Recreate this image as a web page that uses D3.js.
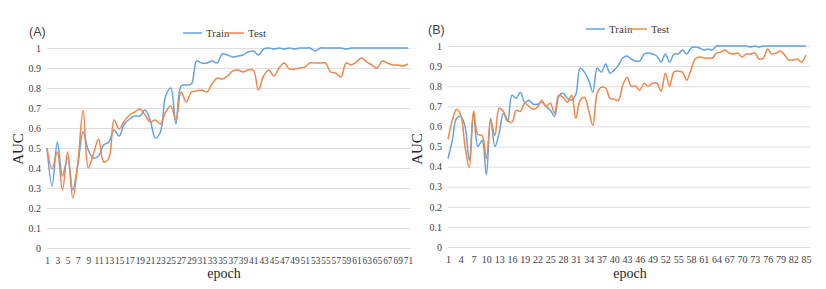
<!DOCTYPE html>
<html>
<head>
<meta charset="utf-8">
<script src="https://cdn.jsdelivr.net/npm/d3@7"></script>
<style>
  body { margin: 0; background: #fff; }
  svg { display: block; }
</style>
</head>
<body>
<svg width="826" height="289"></svg>
<script>
const trainA = [0.50,0.31,0.53,0.36,0.45,0.29,0.42,0.58,0.49,0.45,
  0.46,0.515,0.53,0.59,0.56,0.62,0.645,0.66,0.66,0.69,
  0.64,0.55,0.58,0.76,0.80,0.62,0.81,0.815,0.82,0.935,
  0.925,0.925,0.935,0.925,0.97,0.965,0.955,0.96,0.965,0.98,
  0.985,0.965,0.995,1.0,0.995,1.0,0.995,1.0,0.995,1.0,
  1.0,1.0,0.985,1.0,1.0,1.0,1.0,1.0,0.995,1.0,
  1.0,1.0,1.0,1.0,1.0,1.0,1.0,1.0,1.0,1.0,1.0]
const testA = [0.50,0.395,0.48,0.29,0.48,0.25,0.43,0.69,0.40,0.47,
  0.545,0.43,0.45,0.64,0.595,0.635,0.665,0.68,0.695,0.665,
  0.63,0.64,0.62,0.68,0.71,0.64,0.78,0.73,0.78,0.785,
  0.79,0.78,0.82,0.85,0.845,0.86,0.885,0.89,0.88,0.89,
  0.89,0.79,0.86,0.89,0.86,0.90,0.925,0.895,0.895,0.90,
  0.905,0.925,0.925,0.925,0.925,0.88,0.875,0.855,0.925,0.915,
  0.93,0.95,0.93,0.915,0.90,0.935,0.925,0.915,0.915,0.91,0.92]
const trainB = [0.44,0.53,0.64,0.65,0.60,0.43,0.665,0.50,0.53,0.36,
  0.64,0.50,0.565,0.665,0.625,0.755,0.74,0.77,0.72,0.73,
  0.71,0.71,0.72,0.70,0.68,0.65,0.75,0.765,0.74,0.73,
  0.76,0.89,0.87,0.83,0.77,0.89,0.87,0.91,0.865,0.88,
  0.905,0.94,0.95,0.935,0.925,0.925,0.96,0.965,0.96,0.95,
  0.92,0.96,0.92,0.96,0.96,0.98,0.96,0.99,0.995,0.99,
  0.98,0.985,0.98,1.0,1.0,1.0,1.0,1.0,1.0,1.0,
  1.0,0.995,1.0,0.995,1.0,1.0,1.0,1.0,1.0,1.0,
  1.0,1.0,1.0,1.0,1.0]
const testB = [0.535,0.63,0.685,0.655,0.50,0.395,0.675,0.56,0.555,0.44,
  0.63,0.555,0.69,0.675,0.63,0.62,0.68,0.675,0.715,0.70,
  0.685,0.695,0.73,0.70,0.715,0.665,0.755,0.745,0.72,0.755,
  0.64,0.73,0.745,0.68,0.605,0.765,0.795,0.79,0.74,0.735,
  0.73,0.805,0.845,0.80,0.80,0.78,0.815,0.80,0.815,0.815,
  0.775,0.865,0.80,0.87,0.875,0.87,0.83,0.88,0.935,0.945,
  0.94,0.94,0.94,0.965,0.97,0.98,0.965,0.96,0.965,0.945,
  0.96,0.96,0.965,0.935,0.94,0.985,0.96,0.965,0.975,0.955,
  0.93,0.93,0.935,0.92,0.955]

const yTicks = [0,0.1,0.2,0.3,0.4,0.5,0.6,0.7,0.8,0.9,1]
const xTicksA = d3.range(1, 72, 2)
const xTicksB = d3.range(1, 86, 3)
const seriesNames = ['Train', 'Test']
const colors = ['#62a3e0', '#f0874c']

const svg = d3.select('svg')
const serif = '"Liberation Serif", "Times New Roman", serif'

function drawPanel(p) {
    const g = svg.append('g')
    const x = d3.scaleLinear().domain([1, p.train.length]).range(p.xr)
    const y = d3.scaleLinear().domain([0, 1]).range(p.yr)

    // gridlines + y labels
    const ya = g.append('g')
        .attr('transform', `translate(${p.xr[0]},0)`)
        .call(d3.axisLeft(y).tickValues(yTicks)
            .tickSize(-(p.gridEnd - p.xr[0]))
            .tickPadding(6)
            .tickFormat(d => +d.toFixed(1)))
    ya.select('.domain').remove()
    ya.selectAll('line').attr('stroke', '#dedede').attr('stroke-width', 1)
    ya.selectAll('text').attr('fill', '#404040')
        .style('font-family', serif).style('font-size', '10px')

    const xa = g.append('g')
        .attr('transform', `translate(0,${p.yr[0]})`)
        .call(d3.axisBottom(x).tickValues(p.xTicks).tickSize(0).tickPadding(9))
    xa.select('.domain').remove()
    xa.selectAll('text').attr('fill', '#404040')
        .style('font-family', serif).style('font-size', p.xFont)

    const line = d3.line()
        .x((d, i) => x(i + 1))
        .y(d => y(d))
        .curve(d3.curveCatmullRom.alpha(0.5))

    ;[p.train, p.test].forEach((s, i) => {
        g.append('path')
            .datum(s)
            .attr('fill', 'none')
            .attr('stroke', colors[i])
            .attr('stroke-width', 1.5)
            .attr('d', line)
    })

    // legend
    seriesNames.forEach((n, i) => {
        const lx = p.legend[0] + i * 42
        g.append('line')
            .attr('x1', lx).attr('x2', lx + 19)
            .attr('y1', p.legend[1]).attr('y2', p.legend[1])
            .attr('stroke', colors[i]).attr('stroke-width', 1.5)
        g.append('text')
            .attr('x', lx + 23).attr('y', p.legend[1] + 4)
            .attr('fill', '#404040')
            .style('font-family', serif).style('font-size', '11px')
            .text(n)
    })

    g.append('text')
        .attr('x', p.title[0]).attr('y', p.title[1])
        .attr('fill', '#404040')
        .style('font-family', '"Liberation Sans", Arial, sans-serif')
        .style('font-size', '12.5px')
        .text(p.label)

    g.append('text')
        .attr('transform', `translate(${p.auc[0]},${p.auc[1]}) rotate(-90)`)
        .attr('text-anchor', 'middle')
        .attr('fill', '#262626')
        .style('font-family', serif).style('font-size', '15px')
        .text('AUC')

    g.append('text')
        .attr('x', p.epoch[0]).attr('y', p.epoch[1])
        .attr('text-anchor', 'middle')
        .attr('fill', '#262626')
        .style('font-family', serif).style('font-size', '14px')
        .text('epoch')
}

drawPanel({
    train: trainA, test: testA, xTicks: xTicksA, xFont: '9.4px',
    xr: [47, 408], yr: [248, 48], gridEnd: 411,
    legend: [183, 33], title: [29, 36], label: '(A)',
    auc: [23, 149], epoch: [224, 278]
})
drawPanel({
    train: trainB, test: testB, xTicks: xTicksB, xFont: '10px',
    xr: [448, 806], yr: [247, 46], gridEnd: 810,
    legend: [586, 29], title: [428, 34], label: '(B)',
    auc: [422, 149], epoch: [630, 278]
})
</script>
</body>
</html>
